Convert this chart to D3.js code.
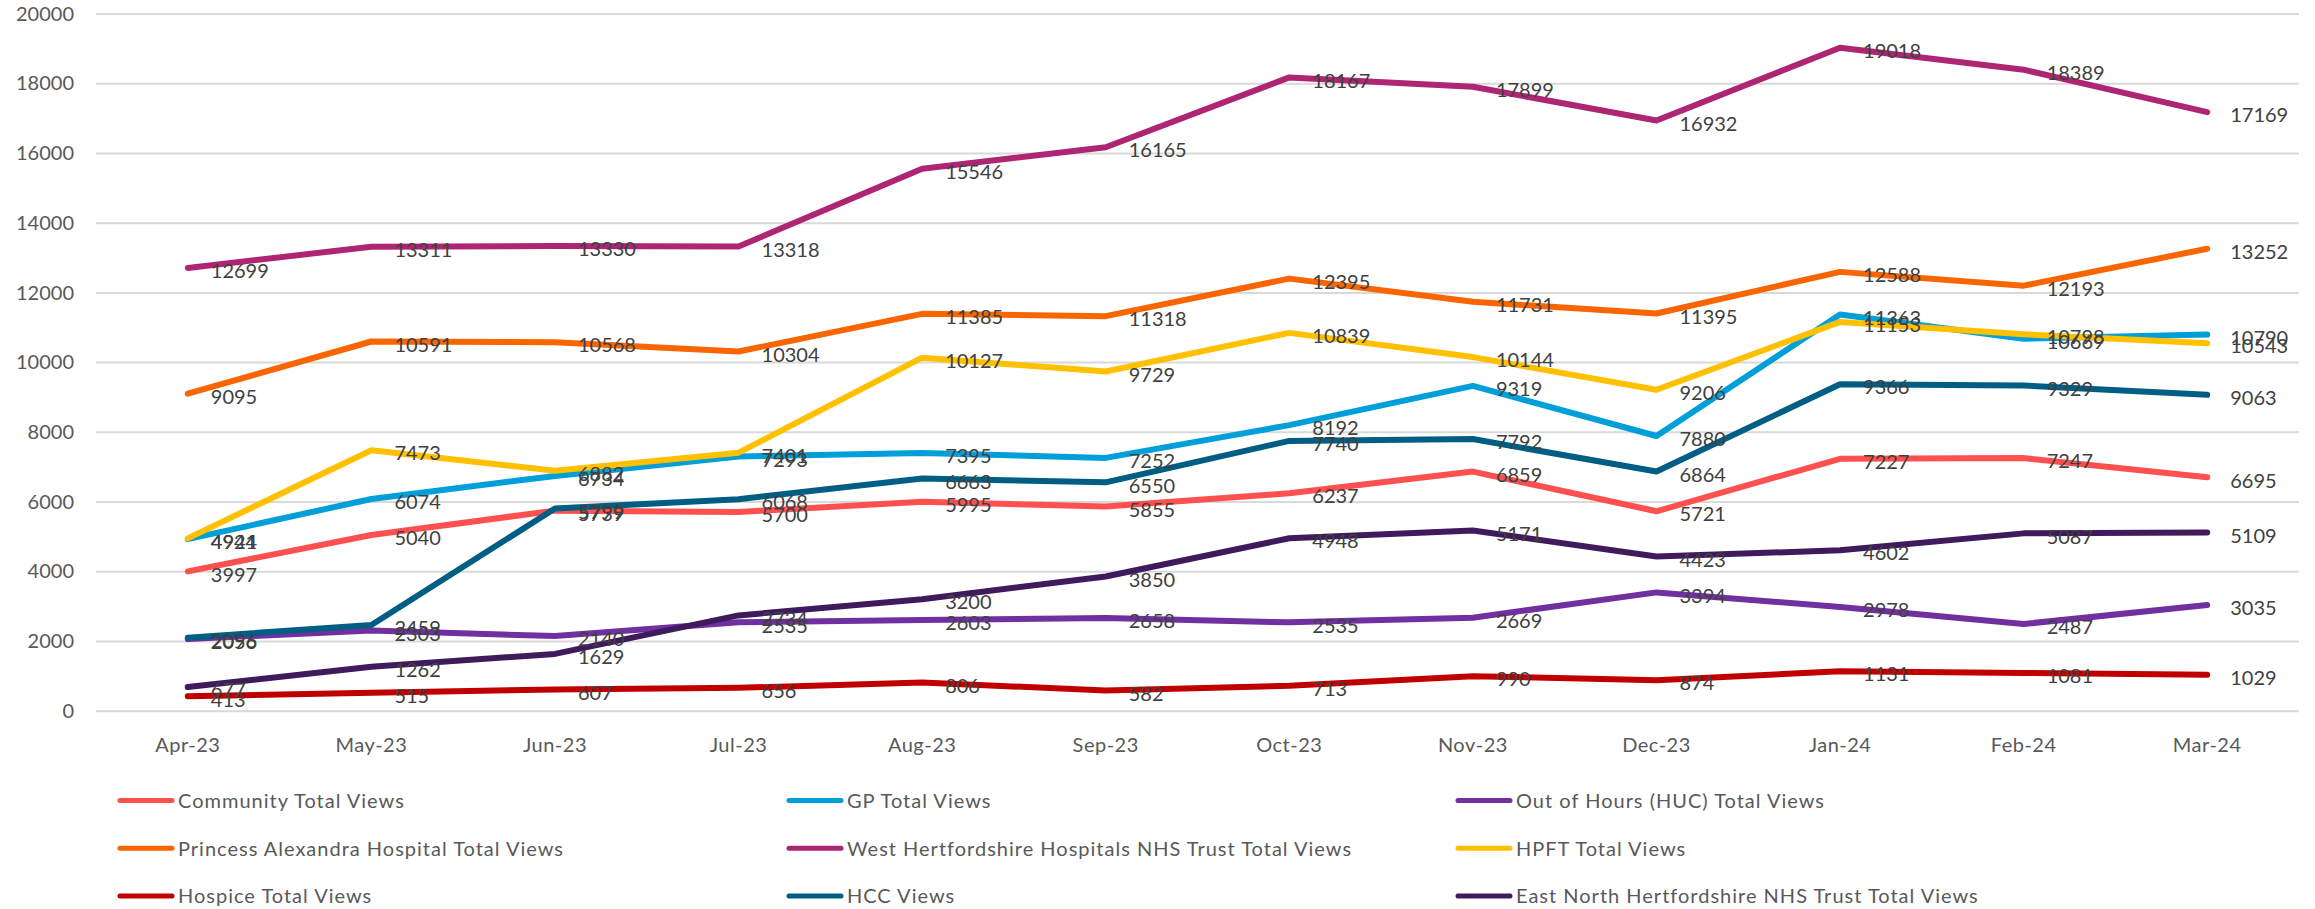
<html>

<head>
  <script src="https://d3js.org/d3.v7.min.js"></script>
  <style>
    body {
      margin: 0;
      background: white;
    }

    svg {
      display: block;
      font-family: Lato, "Open Sans", sans-serif;
    }

    .grid line {
      stroke: #d9d9d9;
      stroke-width: 2;
    }

    .tickLabel {
      fill: #595959;
      font-size: 20px;
    }

    .xLabel {
      letter-spacing: 0.5px;
    }

    .dataLabel {
      fill: #404040;
      font-size: 20px;
    }

    .legendText {
      fill: #595959;
      font-size: 20px;
      letter-spacing: 1px;
    }
  </style>
</head>

<body>
  <svg id="chart" width="2315" height="909"></svg>
  <script>
    // data
    const months = ["Apr-23", "May-23", "Jun-23", "Jul-23", "Aug-23", "Sep-23", "Oct-23", "Nov-23", "Dec-23", "Jan-24", "Feb-24", "Mar-24"];
    const yTicks = [0, 2000, 4000, 6000, 8000, 10000, 12000, 14000, 16000, 18000, 20000];

    const seriesNames = [
      "Community Total Views",
      "GP Total Views",
      "Out of Hours (HUC) Total Views",
      "Princess Alexandra Hospital Total Views",
      "West Hertfordshire Hospitals NHS Trust Total Views",
      "HPFT Total Views",
      "Hospice Total Views",
      "HCC Views",
      "East North Hertfordshire NHS Trust Total Views"
    ];
    const seriesColors = ["#ff5050", "#009fda", "#7030a0", "#f96500", "#ae2573", "#ffc000", "#c00000", "#005e85", "#3f1a5c"];

    const community = [3997, 5040, 5739, 5700, 5995, 5855, 6237, 6859, 5721, 7227, 7247, 6695];
    const gp = [4921, 6074, 6734, 7293, 7395, 7252, 8192, 9319, 7880, 11363, 10669, 10790];
    const outOfHours = [2056, 2303, 2140, 2535, 2603, 2658, 2535, 2669, 3394, 2978, 2487, 3035];
    const princessAlexandra = [9095, 10591, 10568, 10304, 11385, 11318, 12395, 11731, 11395, 12588, 12193, 13252];
    const westHerts = [12699, 13311, 13330, 13318, 15546, 16165, 18167, 17899, 16932, 19018, 18389, 17169];
    const hpft = [4944, 7473, 6882, 7401, 10127, 9729, 10839, 10144, 9206, 11153, 10798, 10543];
    const hospice = [413, 515, 607, 656, 806, 582, 713, 990, 874, 1131, 1081, 1029];
    const hcc = [2096, 2459, 5799, 6068, 6663, 6550, 7740, 7792, 6864, 9366, 9329, 9063];
    const eastNorthHerts = [677, 1262, 1629, 2734, 3200, 3850, 4948, 5171, 4423, 4602, 5087, 5109];

    const allValues = [community, gp, outOfHours, princessAlexandra, westHerts, hpft, hospice, hcc, eastNorthHerts];

    let series = seriesNames.map((name, i) => {
      return { name: name, color: seriesColors[i], values: allValues[i] };
    });

    let svg = d3.select("svg#chart");

    let plotLeft = 96;
    let plotRight = 2299;
    let plotTop = 13.5;
    let plotBottom = 710.7;

    let xScale = d3.scalePoint(months, [plotLeft, plotRight]).padding(0.5);
    let yScale = d3.scaleLinear([0, 20000], [plotBottom, plotTop]);

    // gridlines
    let grid = d3.axisLeft(yScale).tickValues(yTicks).tickFormat("").tickSize(-(plotRight - plotLeft));
    svg.append("g")
      .attr("class", "grid")
      .attr("transform", `translate(${plotLeft}, 0)`)
      .call(grid)
      .call(g => g.select(".domain").remove());

    // y labels
    svg.append("g")
      .selectAll("text")
      .data(yTicks)
      .join("text")
      .attr("class", "tickLabel")
      .attr("x", 74)
      .attr("y", d => yScale(d))
      .attr("dy", "0.36em")
      .style("text-anchor", "end")
      .text(d => d);

    // x labels
    svg.append("g")
      .selectAll("text")
      .data(months)
      .join("text")
      .attr("class", "tickLabel xLabel")
      .attr("x", d => xScale(d))
      .attr("y", 752)
      .style("text-anchor", "middle")
      .text(d => d);

    let line = d3.line()
      .x((d, i) => xScale(months[i]))
      .y(d => yScale(d));

    svg.append("g")
      .selectAll("path")
      .data(series)
      .join("path")
      .attr("d", d => line(d.values))
      .attr("fill", "none")
      .attr("stroke", d => d.color)
      .attr("stroke-width", 6)
      .attr("stroke-linejoin", "round")
      .attr("stroke-linecap", "round");

    // data labels, to the right of each point
    let labelG = svg.append("g");
    series.forEach(s => {
      labelG.selectAll(null)
        .data(s.values)
        .join("text")
        .attr("class", "dataLabel")
        .attr("x", (d, i) => xScale(months[i]) + 23)
        .attr("y", d => yScale(d) + 3)
        .attr("dy", "0.36em")
        .text(d => d);
    });

    // legend, 3 columns x 3 rows
    let legendG = svg.append("g");
    series.forEach((s, i) => {
      let col = i % 3;
      let row = Math.floor(i / 3);
      let lx = 118 + col * 669;
      let ly = 800.5 + row * 47.8;

      legendG.append("line")
        .attr("x1", lx + 2)
        .attr("x2", lx + 54)
        .attr("y1", ly)
        .attr("y2", ly)
        .attr("stroke", s.color)
        .attr("stroke-width", 5)
        .attr("stroke-linecap", "round");

      legendG.append("text")
        .attr("class", "legendText")
        .attr("x", lx + 60)
        .attr("y", ly)
        .attr("dy", "0.36em")
        .text(s.name);
    });
  </script>
</body>

</html>
